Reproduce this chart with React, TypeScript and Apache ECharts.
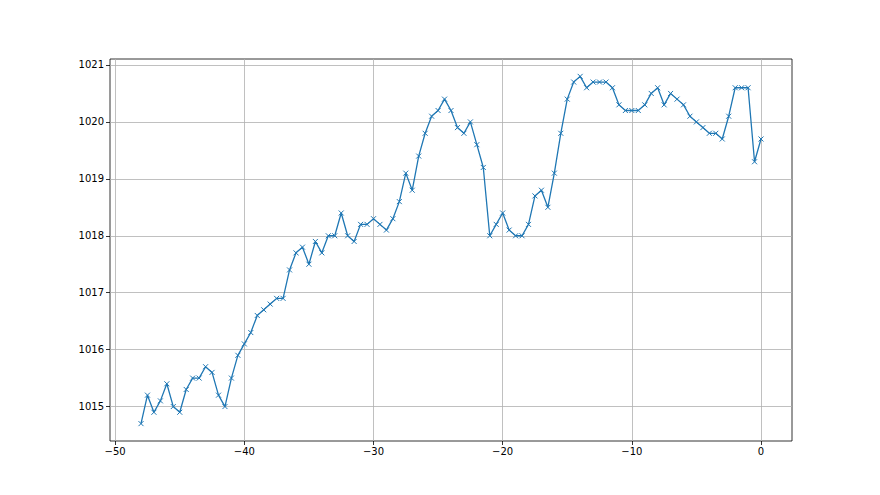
import React, { useEffect, useRef } from "react";
import * as echarts from "echarts";

const xValues: number[] = [];
for (let i = 0; i <= 96; i++) xValues.push(-48 + i * 0.5);

const pressure: number[] = [
  1014.7, 1015.2, 1014.9, 1015.1, 1015.4, 1015.0, 1014.9, 1015.3, 1015.5, 1015.5,
  1015.7, 1015.6, 1015.2, 1015.0, 1015.5, 1015.9, 1016.1, 1016.3, 1016.6, 1016.7,
  1016.8, 1016.9, 1016.9, 1017.4, 1017.7, 1017.8, 1017.5, 1017.9, 1017.7, 1018.0,
  1018.0, 1018.4, 1018.0, 1017.9, 1018.2, 1018.2, 1018.3, 1018.2, 1018.1, 1018.3,
  1018.6, 1019.1, 1018.8, 1019.4, 1019.8, 1020.1, 1020.2, 1020.4, 1020.2, 1019.9,
  1019.8, 1020.0, 1019.6, 1019.2, 1018.0, 1018.2, 1018.4, 1018.1, 1018.0, 1018.0,
  1018.2, 1018.7, 1018.8, 1018.5, 1019.1, 1019.8, 1020.4, 1020.7, 1020.8, 1020.6,
  1020.7, 1020.7, 1020.7, 1020.6, 1020.3, 1020.2, 1020.2, 1020.2, 1020.3, 1020.5,
  1020.6, 1020.3, 1020.5, 1020.4, 1020.3, 1020.1, 1020.0, 1019.9, 1019.8, 1019.8,
  1019.7, 1020.1, 1020.6, 1020.6, 1020.6, 1019.3, 1019.7,
];

const xTicks = [-50, -40, -30, -20, -10, 0];
const yTicks = [1015, 1016, 1017, 1018, 1019, 1020, 1021];

const fmt = (v: number) => String(Math.round(v)).replace("-", "\u2212");

export default function App() {
  const ref = useRef<HTMLDivElement>(null);
  useEffect(() => {
    if (!ref.current) return;
    const chart = echarts.init(ref.current, null, { renderer: "svg" });
    const labelStyle = {
      color: "#000",
      fontSize: 10,
      fontFamily: "DejaVu Sans",
    };
    chart.setOption({
      animation: false,
      backgroundColor: "#fff",
      grid: {
        left: 110,
        right: 88,
        top: 59,
        bottom: 54,
        show: true,
        borderColor: "#000",
        borderWidth: 0.8,
        backgroundColor: "transparent",
      },
      xAxis: {
        type: "value",
        min: -50.4,
        max: 2.4,
        position: "bottom",
        axisLine: { show: false, onZero: false },
        axisTick: {
          show: true,
          customValues: xTicks,
          length: 4,
          lineStyle: { color: "#000", width: 0.8 },
        },
        axisLabel: {
          ...labelStyle,
          customValues: xTicks,
          margin: 5,
          formatter: (v: number) => fmt(v),
        },
        splitLine: { show: true, lineStyle: { color: "#b0b0b0", width: 0.8 } },
      },
      yAxis: {
        type: "value",
        min: 1014.395,
        max: 1021.105,
        position: "left",
        axisLine: { show: false, onZero: false },
        axisTick: {
          show: true,
          customValues: yTicks,
          length: 4,
          lineStyle: { color: "#000", width: 0.8 },
        },
        axisLabel: {
          ...labelStyle,
          customValues: yTicks,
          margin: 6,
          formatter: (v: number) => fmt(v),
        },
        splitLine: { show: true, lineStyle: { color: "#b0b0b0", width: 0.8 } },
      },
      series: [
        {
          type: "line",
          data: xValues.map((x, i) => [x, pressure[i]]),
          showAllSymbol: true,
          symbol: "path://M0,0L10,10M10,0L0,10",
          symbolSize: 5,
          lineStyle: { color: "#1f77b4", width: 1.3 },
          itemStyle: { color: "#1f77b4", borderColor: "#1f77b4", borderWidth: 1 },
          emphasis: { disabled: true },
        },
      ],
    });
    return () => chart.dispose();
  }, []);
  return (
    <div
      ref={ref}
      style={{ position: "fixed", left: 0, top: 0, width: 880, height: 495 }}
    />
  );
}
